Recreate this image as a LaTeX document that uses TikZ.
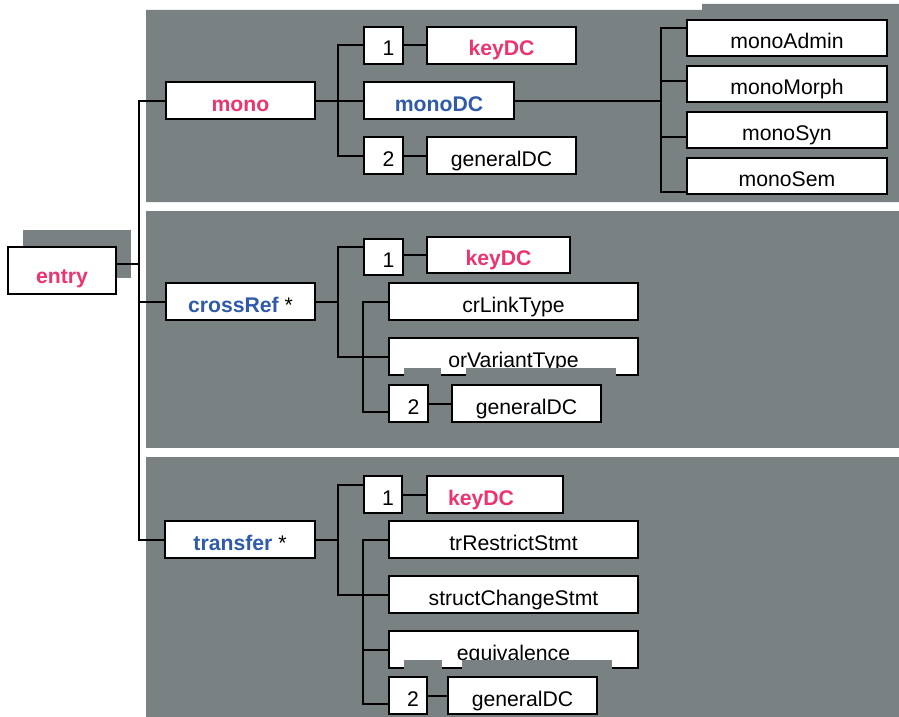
\documentclass[tikz,border=0pt]{standalone}
\usepackage{fontspec}
\setmainfont{Liberation Sans}
\begin{document}
\begin{tikzpicture}[x=1pt,y=-1pt]
\definecolor{panel}{HTML}{7A8182}
\definecolor{keypink}{HTML}{EC3470}
\definecolor{groupblue}{HTML}{2F5BAA}
\tikzset{
  box/.style={draw=black, line width=2pt, fill=white, inner sep=0pt,
    anchor=north west, minimum height=37pt, text height=21pt, text depth=0pt,
    font=\fontsize{21.2}{24}\selectfont},
  numbox/.style={box, execute at begin node=\hspace*{10pt}},
  link/.style={draw=black, line width=2pt},
  pinkbold/.style={text=keypink, font=\fontsize{21.2}{24}\selectfont\bfseries},
  bluebold/.style={text=groupblue, font=\fontsize{21.2}{24}\selectfont\bfseries}
}
\useasboundingbox (0,0) rectangle (899,717);

% grey background panels
\fill[panel] (146,10) -- (702,10) -- (702,4) -- (899,4) -- (899,202) -- (146,202) -- cycle;
\fill[panel] (146,211) rectangle (899,448);
\fill[panel] (146,457) rectangle (899,717);
\fill[panel] (23,230) rectangle (131,278);

% root and first-level elements
\node[box, pinkbold, minimum width=108pt, minimum height=47pt, text height=25pt] (entry) at (7,246) {entry};
\node[box, pinkbold, minimum width=149pt] (mono) at (165,81) {mono};
\node[box, minimum width=149pt] (crossRef) at (165,282) {\textcolor{groupblue}{\bfseries crossRef} *};
\node[box, minimum width=150pt] (transfer) at (164,520) {\textcolor{groupblue}{\bfseries transfer} *};

% mono group
\node[numbox, minimum width=39pt] (m1) at (363,26) {1};
\node[box, pinkbold, minimum width=149pt] (mkey) at (426,26) {keyDC};
\node[box, bluebold, minimum width=150pt] (monoDC) at (363,81) {monoDC};
\node[numbox, minimum width=39pt] (m2) at (363,136) {2};
\node[box, minimum width=149pt] (mgen) at (426,136) {generalDC};
\node[box, minimum width=200pt, minimum height=36pt] (monoAdmin) at (686,19) {monoAdmin};
\node[box, minimum width=200pt, minimum height=36pt] (monoMorph) at (686,65) {monoMorph};
\node[box, minimum width=200pt, minimum height=36pt] (monoSyn) at (686,111) {monoSyn};
\node[box, minimum width=200pt, minimum height=36pt] (monoSem) at (686,157) {monoSem};

% crossRef group
\node[numbox, minimum width=39pt, minimum height=36pt] (c1) at (363,238) {1};
\node[box, pinkbold, minimum width=143pt, minimum height=36pt] (ckey) at (426,236) {keyDC};
\node[box, minimum width=249pt] (crLink) at (388,282) {crLinkType};
\node[box, minimum width=249pt] (orVar) at (388,337) {orVariantType};
\node[numbox, minimum width=39pt] (c2) at (388,384) {2};
\node[box, minimum width=149pt] (cgen) at (451,384) {generalDC};

% transfer group
\node[numbox, minimum width=38pt] (t1) at (363,475) {1};
\node[box, pinkbold, minimum width=136pt] (tkey) at (426,475) {\hspace*{-28pt}keyDC};
\node[box, minimum width=249pt] (trRestrict) at (388,520) {trRestrictStmt};
\node[box, minimum width=249pt] (structChange) at (388,575) {structChangeStmt};
\node[box, minimum width=249pt] (equiv) at (388,630) {equivalence};
\node[numbox, minimum width=38pt] (t2) at (388,676) {2};
\node[box, minimum width=149pt] (tgen) at (447,676) {generalDC};

% junction columns
\coordinate (tr) at (139,0);
\coordinate (jE) at (139,264);
\coordinate (mb) at (661,0);
\coordinate (ca) at (338,0);

% trunk from the root
\draw[link] (entry.east |- jE) -- (jE);
\draw[link] (mono.west) -| (tr |- transfer.west) -- (transfer.west);
\draw[link] (tr |- crossRef.west) -- (crossRef.west);

% mono connectors
\draw[link] (mono.east) -- (monoDC.west);
\draw[link] (m1.west) -| (ca |- m2.west) -- (m2.west);
\draw[link] (m1.east) -- (mkey.west);
\draw[link] (m2.east) -- (mgen.west);
\draw[link] (monoDC.east) -- (mb |- monoDC.east);
\draw[link] ([yshift=10pt]monoAdmin.west) -- ++(-25,0) |- ([yshift=-16pt]monoSem.west);
\draw[link] ([yshift=3pt]monoMorph.west) -- ++(-25,0);
\draw[link] ([yshift=-7pt]monoSyn.west) -- ++(-25,0);

% crossRef connectors
\draw[link] (crossRef.east) -- (ca |- crossRef.east);
\draw[link] ([yshift=10pt]c1.west) -- ++(-25,0) |- (orVar.west);
\draw[link] (ckey.west) -- (c1.east |- ckey.west);
\draw[link] (crLink.west) -- ++(-25,0) |- ([yshift=-8pt]c2.west);
\draw[link] (c2.east) -- (cgen.west);

% transfer connectors
\draw[link] (transfer.east) -- (ca |- transfer.east);
\draw[link] ([yshift=10pt]t1.west) -- ++(-25,0) |- (structChange.west);
\draw[link] (t1.east) -- (tkey.west);
\draw[link] (trRestrict.west) -- ++(-25,0) |- ([yshift=-8.5pt]t2.west);
\draw[link] (equiv.west) -- ++(-25,0);
\draw[link] (t2.east) -- (tgen.west);

% grey strips across the lower edges of two boxes
\fill[panel] (404,368) rectangle (441,377);
\fill[panel] (466,368) rectangle (616,377);
\fill[panel] (404,660) rectangle (442,670);
\fill[panel] (462,660) rectangle (612,670);
\end{tikzpicture}
\end{document}
